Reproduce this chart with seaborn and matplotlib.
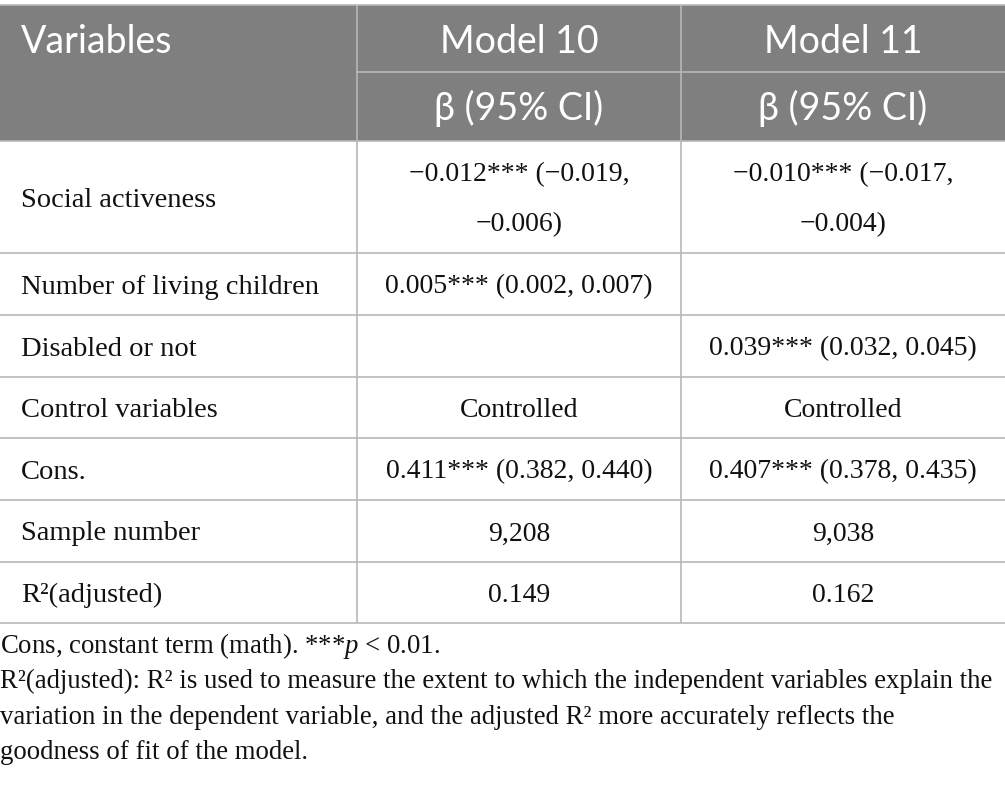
import matplotlib
matplotlib.use("Agg")
import matplotlib.pyplot as plt
import seaborn as sns

sns.set_style("white")
plt.rcParams["mathtext.fontset"] = "custom"
plt.rcParams["mathtext.rm"] = "Liberation Serif"
plt.rcParams["mathtext.it"] = "Liberation Serif:italic"

# table content
header_top = ["Variables", "Model 10", "Model 11"]
header_sub = ["", "β (95% CI)", "β (95% CI)"]
row_labels = ["Social activeness", "Number of living children", "Disabled or not",
              "Control variables", "Cons.", "Sample number", "R²(adjusted)"]
model10 = ["−0.012*** (−0.019,\n−0.006)", "0.005*** (0.002, 0.007)", "",
           "Controlled", "0.411*** (0.382, 0.440)", "9,208", "0.149"]
model11 = ["−0.010*** (−0.017,\n−0.004)", "", "0.039*** (0.032, 0.045)",
           "Controlled", "0.407*** (0.378, 0.435)", "9,038", "0.162"]
notes = ["Cons, constant term (math). ***$\\it{p}$ < 0.01.",
         "R²(adjusted): R² is used to measure the extent to which the independent variables explain the",
         "variation in the dependent variable, and the adjusted R² more accurately reflects the",
         "goodness of fit of the model."]

# layout (pixels)
W, H = 1005, 788
col_edges = [0, 357, 681, 1005]
row_edges = [141, 253, 315, 377, 438, 500, 562, 623]
head_top, head_mid, head_bot = 5, 72, 141
grey = "#7f7f7f"
line_c = "#b8b8b8"
txt_c = "#111111"
serif = "Liberation Serif"
sans = "Lato"
body_fs = 20
label_fs = 20.5
note_fs = 19.3
head_fs = 27

fig = plt.figure(figsize=(W / 100, H / 100), dpi=100)
ax = fig.add_axes([0, 0, 1, 1])
ax.set_xlim(0, W)
ax.set_ylim(H, 0)
ax.axis("off")

# header band and grid lines
ax.axhspan(head_top, head_bot, color=grey, lw=0)
ax.hlines(head_top, 0, W, color=line_c, lw=1.2)
ax.hlines(head_mid, col_edges[1], W, color=line_c, lw=1.2)
ax.vlines(col_edges[1:3], head_top, row_edges[-1], color=line_c, lw=1.2)
ax.hlines(row_edges, 0, W, color=line_c, lw=1.2)

centers = [(col_edges[i] + col_edges[i + 1]) / 2 for i in range(3)]
ax.text(21, (head_top + head_mid) / 2 + 3, header_top[0], color="white",
        fontsize=head_fs, family=sans, va="center", ha="left")
for i in (1, 2):
    ax.text(centers[i], (head_top + head_mid) / 2 + 3, header_top[i], color="white",
            fontsize=head_fs, family=sans, va="center", ha="center")
    ax.text(centers[i], (head_mid + head_bot) / 2 + 2, header_sub[i], color="white",
            fontsize=head_fs, family=[sans, "DejaVu Sans"], va="center", ha="center")

for r, lab in enumerate(row_labels):
    yc = (row_edges[r] + row_edges[r + 1]) / 2 + 3
    ax.text(21, yc, lab, fontsize=label_fs, family=serif, va="center", ha="left", color=txt_c)
    for i, vals in ((1, model10), (2, model11)):
        parts = vals[r].split("\n")
        step = 50
        y0 = yc - step * (len(parts) - 1) / 2
        for j, p in enumerate(parts):
            ax.text(centers[i], y0 + j * step, p, fontsize=body_fs, family=serif,
                    va="center", ha="center", color=txt_c)

for k, line in enumerate(notes):
    ax.text(0, 646 + k * 35.6, line, fontsize=note_fs, family=serif, va="center",
            ha="left", color=txt_c)

fig.savefig("out.png", dpi=100)
